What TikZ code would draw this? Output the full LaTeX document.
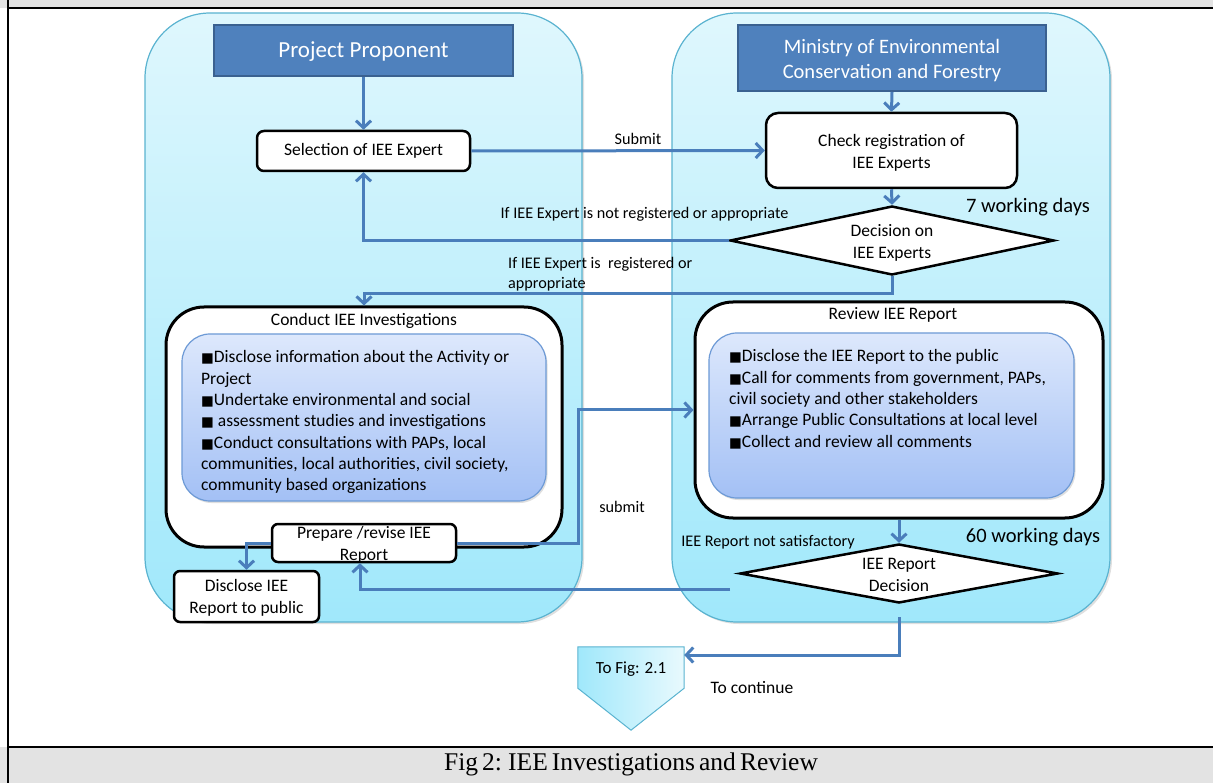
\documentclass[tikz,border=0pt]{standalone}
\usepackage{fontspec}
\usepackage{graphicx}
\setmainfont{Carlito}
\newfontfamily\capfont{Liberation Serif}
\newfontfamily\symfont{DejaVu Sans}
\usetikzlibrary{arrows.meta,shapes.geometric,shadows,calc}
\definecolor{arrowblue}{HTML}{4A7EBB}
\definecolor{ppblue}{HTML}{4F81BD}
\definecolor{ppedge}{HTML}{3A6190}
\definecolor{paneltop}{HTML}{DFF7FD}
\definecolor{panelbot}{HTML}{A0E8FB}
\definecolor{paneledge}{HTML}{5AB3D0}
\definecolor{intop}{HTML}{DDE8FC}
\definecolor{inbot}{HTML}{A3C0F5}
\definecolor{inedge}{HTML}{6D9AD6}
\definecolor{bandgray}{HTML}{E3E3E3}
\newcommand{\bsq}{{\symfont\fontsize{13.5}{13.5}\selectfont ■}}
\newcommand{\fs}[2]{\fontsize{#1}{#2}\selectfont}
\tikzset{
  panel/.style={draw=paneledge, line width=1.2pt, top color=paneltop, bottom color=panelbot, rounded corners=65pt,
    drop shadow={shadow xshift=2pt, shadow yshift=-2pt, opacity=0.25}},
  headbox/.style={draw=ppedge, line width=2pt, fill=ppblue, inner sep=0pt},
  headtxt/.style={text=white, inner sep=0pt, align=center},
  whitebox/.style={draw=black, line width=2.5pt, fill=white, inner sep=0pt, align=center, rounded corners=7pt, font=\fs{17.5}{21}},
  bigbox/.style={draw=black, line width=3pt, fill=white, inner sep=0pt, rounded corners=38pt},
  innerbox/.style={draw=inedge, line width=1.2pt, top color=intop, bottom color=inbot, inner sep=0pt, rounded corners=28pt,
    drop shadow={shadow xshift=1.5pt, shadow yshift=-2pt, opacity=0.25}},
  decision/.style={diamond, draw=black, line width=2.5pt, fill=white, inner sep=0pt, aspect=4.7},
  dectxt/.style={inner sep=0pt, align=center, font=\fs{17.5}{21.5}},
  lbl/.style={inner sep=0pt, font=\fs{16.2}{20}, align=left},
  days/.style={inner sep=0pt, font=\fs{20.5}{24}},
  bullets/.style={inner sep=0pt, align=left, font=\fs{17.5}{21.3}, anchor=north west},
  arr/.style={draw=arrowblue, line width=3pt, -{Straight Barb[length=7pt,width=15pt]}},
}
\begin{document}
\begin{tikzpicture}[x=1pt,y=-1pt]
\useasboundingbox (0,0) rectangle (1213,783);
% frame
\fill[bandgray] (0,0) rectangle (1213,8.5);
\fill[bandgray] (0,747) rectangle (1213,783);
\draw[line width=2pt] (8,0) -- (8,783);
\draw[line width=2pt] (8,8.5) -- (1213,8.5);
\draw[line width=2pt] (8,747) -- (1213,747);
\node[inner sep=0pt, font=\capfont\fs{25.5}{25.5}] (caption) at (631,764) {\spaceskip=0.16em Fig 2: IEE Investigations and Review};
% panels
\path[panel] (145,13) rectangle (582,622);
\path[panel] (672,13) rectangle (1110,622);
% labels
\node[lbl] (submitlbl) at (638,139) {Submit};
\node[lbl] (notreg) at (644.5,214) {If IEE Expert is not registered or appropriate};
\node[lbl, anchor=west] (isreg) at (508,274) {If IEE Expert is\ \ registered or\\appropriate};
\node[lbl] (submit2) at (622,507) {submit};
\node[lbl] (notsat) at (768,542) {IEE Report not satisfactory};
\node[lbl, font=\fs{17.5}{20}] (cont) at (752,688) {To continue};
\node[days] (sevenwd) at (1028,207) {7 working days};
\node[days] (sixtywd) at (1033,537) {60 working days};
% left column
\node[headbox, minimum width=299pt, minimum height=51pt] (pp) at (363.5,50.5) {};
\node[headtxt, font=\fs{23}{27}] (pptxt) at (363.5,52) {Project Proponent};
\node[whitebox, minimum width=213pt, minimum height=40pt] (sel) at (363.5,151) {Selection of IEE Expert};
\node[bigbox, minimum width=396pt, minimum height=240pt] (cond) at (364,427) {};
\node[inner sep=0pt, font=\fs{17.5}{18}] (condtitle) at (364,321) {Conduct IEE Investigations};
\node[innerbox, minimum width=364pt, minimum height=167pt] (condin) at (364,417.5) {};
\node[bullets] (condtxt) at (201,350.5) {\bsq Disclose information about the Activity or\\Project\\\bsq Undertake environmental and social\\\bsq\ assessment studies and investigations\\\bsq Conduct consultations with PAPs, local\\communities, local authorities, civil society,\\community based organizations};
\node[whitebox, minimum width=184pt, minimum height=38pt, rounded corners=6pt] (prep) at (364,543) {};
\node[dectxt] (preptxt) at (364,545) {Prepare /revise IEE\\Report};
\node[whitebox, minimum width=145pt, minimum height=51pt, rounded corners=6pt] (disc) at (246.5,596.5) {};
\node[dectxt] (disctxt) at (246.5,598) {Disclose IEE\\Report to public};
% right column
\node[headbox, minimum width=308pt, minimum height=66pt] (min) at (892,58) {};
\node[headtxt, font=\fs{20.5}{25}] (mintxt) at (892,61) {Ministry of Environmental\\Conservation and Forestry};
\node[whitebox, minimum width=251pt, minimum height=75pt, rounded corners=12pt] (chk) at (891.5,150.5) {};
\node[dectxt, font=\fs{17.5}{22}] (chktxt) at (891.5,152.5) {Check registration of\\IEE Experts};
\node[decision, minimum width=324pt, minimum height=69pt] (dec) at (892,240.5) {};
\node[dectxt, font=\fs{17.5}{22}] (dectx) at (892,242.5) {Decision on\\IEE Experts};
\node[bigbox, minimum width=408pt, minimum height=216pt] (rev) at (899,410) {};
\node[inner sep=0pt, font=\fs{17.5}{18}] (revtitle) at (893,315) {Review IEE Report};
\node[innerbox, minimum width=365pt, minimum height=165pt] (revin) at (891.5,415.5) {};
\node[bullets] (revtxt) at (729,349.5) {\bsq Disclose the IEE Report to the public\\\bsq Call for comments from government, PAPs,\\civil society and other stakeholders\\\bsq Arrange Public Consultations at local level\\\bsq Collect and review all comments};
\node[decision, minimum width=318pt, minimum height=59pt] (rdec) at (899,573.5) {};
\node[dectxt] (rdectxt) at (899,575) {IEE Report\\Decision};
% To Fig connector shape
\node[inner sep=0pt, minimum width=106pt, minimum height=41pt] (tofig) at (631,667.5) {};
\draw[draw=paneledge, line width=1pt, left color=panelbot, right color=paneltop!70!white]
  (tofig.north west) -- (tofig.north east) -- (tofig.south east) -- ($(tofig.south)+(0,42)$) -- (tofig.south west) -- cycle;
\node[inner sep=0pt, font=\fs{17}{18}] (tofigtxt) at (631,669) {To Fig: 2.1};
% connectors
\draw[arr] (pp.south) -- (sel.north);
\draw[arr] (sel.east) -- (chk.west);
\draw[arr] (min.south) -- (chk.north);
\draw[arr] (chk.south) -- (dec.north);
\draw[arr] (dec.west) -| (sel.south);
\draw[arr] (dec.south) -- ++(0,17) -| (cond.north);
\draw[arr] (prep.west) -| (disc.north);
\draw[arr] (prep.east) -- ++(121,0) |- (rev.west);
\draw[arr] (rev.south) -- (rdec.north);
\coordinate (nsat) at (730,589);
\draw[arr] (nsat) -| ([xshift=-4pt]prep.south);
\draw[arr] ([yshift=-13pt]rdec.south) |- ([yshift=12.5pt]tofig.east);
\end{tikzpicture}
\end{document}
